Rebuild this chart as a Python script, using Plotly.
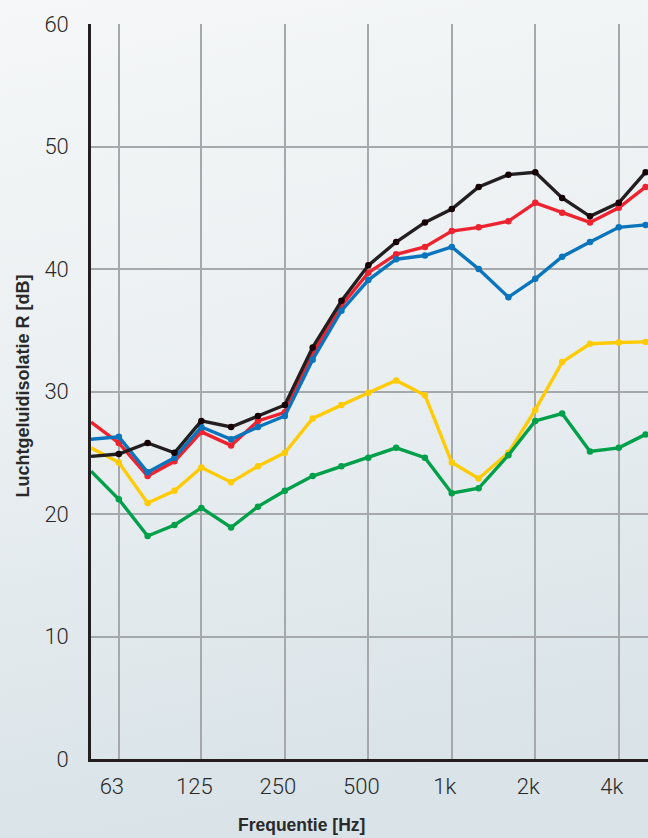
import base64
import math
import plotly.graph_objects as go

# Third-octave band centre frequencies (Hz)
freqs = [50, 63, 80, 100, 125, 160, 200, 250, 315, 400, 500, 630, 800,
         1000, 1250, 1600, 2000, 2500, 3150, 4000, 5000]

black = [24.7, 24.9, 25.8, 25.0, 27.6, 27.1, 28.0, 28.9, 33.6, 37.4, 40.3,
         42.2, 43.8, 44.9, 46.7, 47.7, 47.9, 45.8, 44.3, 45.4, 47.9]
red = [27.5, 25.8, 23.1, 24.3, 26.7, 25.6, 27.6, 28.3, 33.1, 37.0, 39.7,
       41.2, 41.8, 43.1, 43.4, 43.9, 45.4, 44.6, 43.8, 45.0, 46.7]
blue = [26.1, 26.3, 23.4, 24.6, 27.1, 26.1, 27.1, 28.0, 32.6, 36.6, 39.1,
        40.8, 41.1, 41.8, 40.0, 37.7, 39.2, 41.0, 42.2, 43.4, 43.6]
yellow = [25.4, 24.2, 20.9, 21.9, 23.8, 22.6, 23.9, 25.0, 27.8, 28.9, 29.9,
          30.9, 29.7, 24.2, 22.9, 25.0, 28.5, 32.4, 33.9, 34.0, 34.05]
green = [23.5, 21.2, 18.2, 19.1, 20.5, 18.9, 20.6, 21.9, 23.1, 23.9, 24.6,
         25.4, 24.6, 21.7, 22.1, 24.8, 27.6, 28.2, 25.1, 25.4, 26.5]

tick_vals = [63, 125, 250, 500, 1000, 2000, 4000]
tick_text = ["63", "125", "250", "500", "1k", "2k", "4k"]
y_ticks = [0, 10, 20, 30, 40, 50, 60]

series = [
    ("yellow", yellow, "#ffcb05", "#ffcb05"),
    ("green", green, "#00a04a", "#00a04a"),
    ("red", red, "#ee2330", "#ee2330"),
    ("blue", blue, "#0a74bd", "#0a74bd"),
    ("black", black, "#231f20", "#150005"),
]

fig = go.Figure()
for name, vals, col, mcol in series:
    fig.add_trace(go.Scatter(
        x=freqs, y=vals, mode="lines+markers", name=name,
        line=dict(color=col, width=3.4),
        marker=dict(color=mcol, size=6.5),
        cliponaxis=False, showlegend=False,
    ))

W, H = 648, 838
ML, MR, MT, MB = 91, 0, 24, 79
pw, ph = W - ML - MR, H - MT - MB

svg = (
    '<svg xmlns="http://www.w3.org/2000/svg" width="648" height="838">'
    '<defs><linearGradient id="g" x1="0" y1="0" x2="0.15" y2="1">'
    '<stop offset="0" stop-color="#f5f7f8"/>'
    '<stop offset="0.5" stop-color="#eaeff1"/>'
    '<stop offset="1" stop-color="#d9e3e8"/>'
    '</linearGradient></defs>'
    '<rect width="648" height="838" fill="url(#g)"/></svg>'
)
src = "data:image/svg+xml;base64," + base64.b64encode(svg.encode()).decode()

grid_col = "#a6a9ac"
tick_font = dict(family="Roboto, Liberation Sans, Arial, sans-serif", size=22,
                 color="#2a2a2a", weight=300)
title_font_family = "Liberation Sans Narrow, Arial Narrow, Liberation Sans, sans-serif"

fig.update_layout(
    width=W, height=H,
    margin=dict(l=ML, r=MR, t=MT, b=MB, pad=0),
    paper_bgcolor="#e8edf0",
    plot_bgcolor="rgba(0,0,0,0)",
    images=[dict(source=src, xref="paper", yref="paper",
                 x=-ML / pw, y=1 + MT / ph, sizex=W / pw, sizey=H / ph,
                 xanchor="left", yanchor="top", sizing="stretch", layer="below")],
    xaxis=dict(
        type="log", range=[math.log10(50), 3.7075],
        tickvals=tick_vals, ticktext=tick_text,
        showgrid=True, gridcolor=grid_col, gridwidth=1.5,
        showline=True, linecolor="#231f20", linewidth=2.6,
        ticks="", tickfont=tick_font, ticklabelstandoff=6, ticklabelshift=-7,
        zeroline=False, fixedrange=True,
    ),
    yaxis=dict(
        range=[0, 60], tickvals=y_ticks,
        showgrid=True, gridcolor=grid_col, gridwidth=1.5,
        showline=True, linecolor="#231f20", linewidth=2.6,
        ticks="", tickfont=tick_font, ticklabelstandoff=15,
        zeroline=False, fixedrange=True,
    ),
    annotations=[
        dict(text="<b>Frequentie [Hz]</b>", xref="paper", yref="paper",
             x=(301 - ML) / pw, y=-(825 - (H - MB)) / ph,
             xanchor="center", yanchor="middle", showarrow=False,
             font=dict(family=title_font_family, size=17.5, color="#2a2a2a")),
        dict(text="<b>Luchtgeluidisolatie R [dB]</b>", xref="paper", yref="paper",
             x=(22 - ML) / pw, y=((H - MB) - 386.5) / ph, textangle=-90,
             xanchor="center", yanchor="middle", showarrow=False,
             font=dict(family=title_font_family, size=18, color="#2a2a2a")),
    ],
)

fig.write_html(
    "out.html",
    config={"displayModeBar": False},
    post_script="document.body.style.margin='0';document.body.style.overflow='hidden';",
)
